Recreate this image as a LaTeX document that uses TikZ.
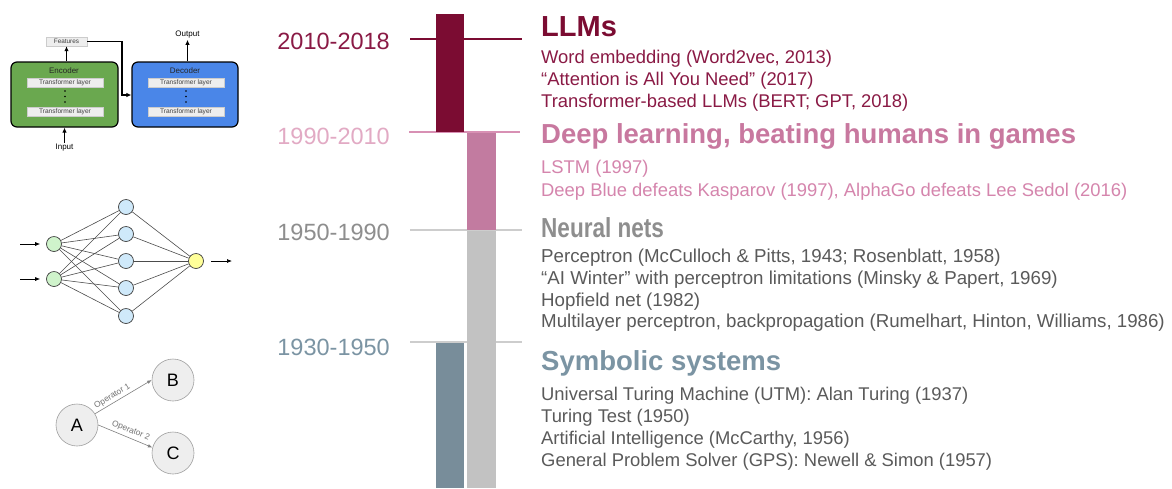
\documentclass[tikz,border=0pt]{standalone}
\usepackage{fontspec}
\setmainfont{Liberation Sans}
\newfontfamily\narrowsans[FakeStretch=0.82]{Liberation Sans}
\usetikzlibrary{arrows.meta}

% era colours
\definecolor{llmred}{HTML}{7B0C32}
\definecolor{llmtext}{HTML}{8A1A45}
\definecolor{dlbar}{HTML}{C27BA0}
\definecolor{dlhead}{HTML}{C8789F}
\definecolor{dltext}{HTML}{D585AD}
\definecolor{dlyear}{HTML}{E2AAC4}
\definecolor{dlrule}{HTML}{D890B4}
\definecolor{nnbar}{HTML}{C2C2C2}
\definecolor{nnhead}{HTML}{8E8E8E}
\definecolor{bodytext}{HTML}{5A5A5A}
\definecolor{ssbar}{HTML}{788D9A}
\definecolor{sshead}{HTML}{7B94A3}
\definecolor{greyrule}{HTML}{CDCDCD}
% sketch colours
\definecolor{encgreen}{HTML}{6AA84F}
\definecolor{decblue}{HTML}{4A86E8}
\definecolor{layergray}{HTML}{EEEEEE}
\definecolor{inpgreen}{HTML}{CFF3CB}
\definecolor{hidblue}{HTML}{CFE9FA}
\definecolor{outyellow}{HTML}{FFFF99}
\definecolor{statefill}{HTML}{EEEEEE}
\definecolor{stateline}{HTML}{A0A0A0}

\begin{document}
\begin{tikzpicture}[x=1pt,y=-1pt,
  year/.style={anchor=base east, inner sep=0pt, font=\fontsize{23.5}{24}\selectfont},
  head/.style={anchor=base west, inner sep=0pt, font=\bfseries\fontsize{27.5}{28}\selectfont},
  item/.style={anchor=base west, inner sep=0pt, font=\fontsize{18.4}{20}\selectfont},
  block/.style={draw=black, line width=1.2, rounded corners=6, minimum height=65},
  layer/.style={draw=black!20, fill=layergray, minimum width=76, minimum height=9,
                inner sep=0pt, font=\fontsize{6.6}{7}\selectfont, text=black!75},
  small/.style={inner sep=0pt, font=\fontsize{8}{9}\selectfont},
  arr/.style={-{Latex[length=5,width=4.5]}, line width=1.1},
  neuron/.style={circle, draw=black!75, line width=0.7, minimum size=15, inner sep=0pt},
  wire/.style={draw=black!70, line width=0.6},
  state/.style={circle, draw=stateline, fill=statefill, line width=0.6, minimum size=42,
                inner sep=0pt, font=\fontsize{18}{18}\selectfont},
  oparr/.style={-{Latex[length=4.5,width=3.5]}, draw=black!50, line width=0.6},
  oplbl/.style={font=\fontsize{8.4}{9}\selectfont, text=black!55, inner sep=1pt}
]
\useasboundingbox[fill=white] (0,0) rectangle (1172,488);

% ---------- era rules ----------
\draw[llmred, line width=1.6] (410,39) -- (522,39);
\draw[dlrule, line width=1.6] (409,132) -- (520,132);
\draw[greyrule, line width=1.6] (410,230) -- (522,230);
\draw[greyrule, line width=1.6] (410,342) -- (522,342);

% ---------- timeline bars ----------
\fill[llmred] (436,14) rectangle (464,131.5);
\fill[dlbar] (467,133) rectangle (496,230);
\fill[nnbar] (467,230.8) rectangle (496,488);
\fill[ssbar] (436,343) rectangle (464,488);

% ---------- year labels ----------
\node[year, text=llmtext] (y2010) at (390,49) {2010-2018};
\node[year, text=dlyear] (y1990) at (390,144) {1990-2010};
\node[year, text=nnhead] (y1950) at (390,240) {1950-1990};
\node[year, text=sshead] (y1930) at (390,355) {1930-1950};

% ---------- LLMs ----------
\node[head, text=llmred, font=\bfseries\fontsize{29}{30}\selectfont] (hllm) at (541,36) {LLMs};
\node[item, text=llmtext] (l1) at (541,63.5) {Word embedding (Word2vec, 2013)};
\node[item, text=llmtext] (l2) at (541,85.5) {“Attention is All You Need” (2017)};
\node[item, text=llmtext] (l3) at (541,107.5) {Transformer-based LLMs (BERT; GPT, 2018)};

% ---------- Deep learning ----------
\node[head, text=dlhead] (hdl) at (541,143) {Deep learning, beating humans in games};
\node[item, text=dltext] (d1) at (541,173) {LSTM (1997)};
\node[item, text=dltext] (d2) at (541,196.5) {Deep Blue defeats Kasparov (1997), AlphaGo defeats Lee Sedol (2016)};

% ---------- Neural nets ----------
\node[head, text=nnhead, font=\narrowsans\bfseries\fontsize{27.5}{28}\selectfont] (hnn) at (541,237) {Neural nets};
\node[item, text=bodytext, font=\fontsize{18.7}{20}\selectfont] (n1) at (541,262.5) {Perceptron (McCulloch \& Pitts, 1943; Rosenblatt, 1958)};
\node[item, text=bodytext, font=\fontsize{18.7}{20}\selectfont] (n2) at (541,284.5) {“AI Winter” with perceptron limitations (Minsky \& Papert, 1969)};
\node[item, text=bodytext, font=\fontsize{18.7}{20}\selectfont] (n3) at (541,306) {Hopfield net (1982)};
\node[item, text=bodytext, font=\fontsize{18.7}{20}\selectfont] (n4) at (541,327.5) {Multilayer perceptron, backpropagation (Rumelhart, Hinton, Williams, 1986)};

% ---------- Symbolic systems ----------
\node[head, text=sshead] (hss) at (541,370) {Symbolic systems};
\node[item, text=bodytext] (s1) at (541,400) {Universal Turing Machine (UTM): Alan Turing (1937)};
\node[item, text=bodytext] (s2) at (541,422) {Turing Test (1950)};
\node[item, text=bodytext] (s3) at (541,444.5) {Artificial Intelligence (McCarthy, 1956)};
\node[item, text=bodytext] (s4) at (541,466) {General Problem Solver (GPS): Newell \& Simon (1957)};

% ---------- encoder / decoder sketch ----------
\node[block, fill=encgreen, minimum width=107] (enc) at (64.5,94.5) {};
\node[block, fill=decblue, minimum width=106] (dec) at (185,94.5) {};
\node[small, text=black!85] (enclbl) at (64,70.5) {Encoder};
\node[small, text=black!85] (declbl) at (185,70.5) {Decoder};
\node[layer] (el1) at (65,82.5) {Transformer layer};
\node[layer] (el2) at (65,111.5) {Transformer layer};
\node[layer] (dl1) at (186,82.5) {Transformer layer};
\node[layer] (dl2) at (186,111.5) {Transformer layer};
\foreach \yy in {91,96.5,102} {
  \fill (65,\yy) circle (0.9);
  \fill (186,\yy) circle (0.9);
}
\node[layer, minimum width=41, font=\fontsize{6.4}{7}\selectfont] (feat) at (66.5,41.5) {Features};
\node[small] (outlbl) at (187.5,35) {Output};
\node[small] (inlbl) at (64.5,148) {Input};
\coordinate (fbend) at (122,95);
\draw[arr] (enc.north -| feat.south) -- (feat.south);
\draw[arr] (feat.east) -| (fbend) -- (dec.west |- fbend);
\draw[arr] (dec.north -| outlbl.south) -- ([yshift=-1]outlbl.south);
\draw[arr] ([yshift=1.5]inlbl.north) -- (enc.south -| inlbl.north);

% ---------- small neural network ----------
\node[neuron, fill=inpgreen] (i1) at (54,244) {};
\node[neuron, fill=inpgreen] (i2) at (54,279) {};
\node[neuron, fill=hidblue] (h1) at (126,207) {};
\node[neuron, fill=hidblue] (h2) at (126,234) {};
\node[neuron, fill=hidblue] (h3) at (126,261) {};
\node[neuron, fill=hidblue] (h4) at (126,288) {};
\node[neuron, fill=hidblue] (h5) at (126,316) {};
\node[neuron, fill=outyellow] (o1) at (196,261) {};
\foreach \a in {i1,i2}
  \foreach \b in {h1,h2,h3,h4,h5}
    \draw[wire] (\a) -- (\b);
\foreach \b in {h1,h2,h3,h4,h5}
  \draw[wire] (\b) -- (o1);
\coordinate (in1) at (20,244);
\coordinate (in2) at (20,279);
\coordinate (outend) at (232,261);
\draw[-{Latex[length=5,width=4]}, line width=0.7, shorten >=6] (in1) -- (i1);
\draw[-{Latex[length=5,width=4]}, line width=0.7, shorten >=6] (in2) -- (i2);
\draw[-{Latex[length=5,width=4]}, line width=0.7, shorten <=7.5] (o1) -- (outend);

% ---------- state-space search sketch ----------
\node[state] (A) at (77,425) {A};
\node[state] (B) at (173,380) {B};
\node[state] (C) at (173,453) {C};
\draw[oparr] (A.32) -- node[sloped, above=1pt, oplbl, pos=0.36] {Operator 1} (B.west);
\draw[oparr] (A.east) -- node[sloped, above=2pt, oplbl, pos=0.55] {Operator 2} (C.165);
\end{tikzpicture}
\end{document}
